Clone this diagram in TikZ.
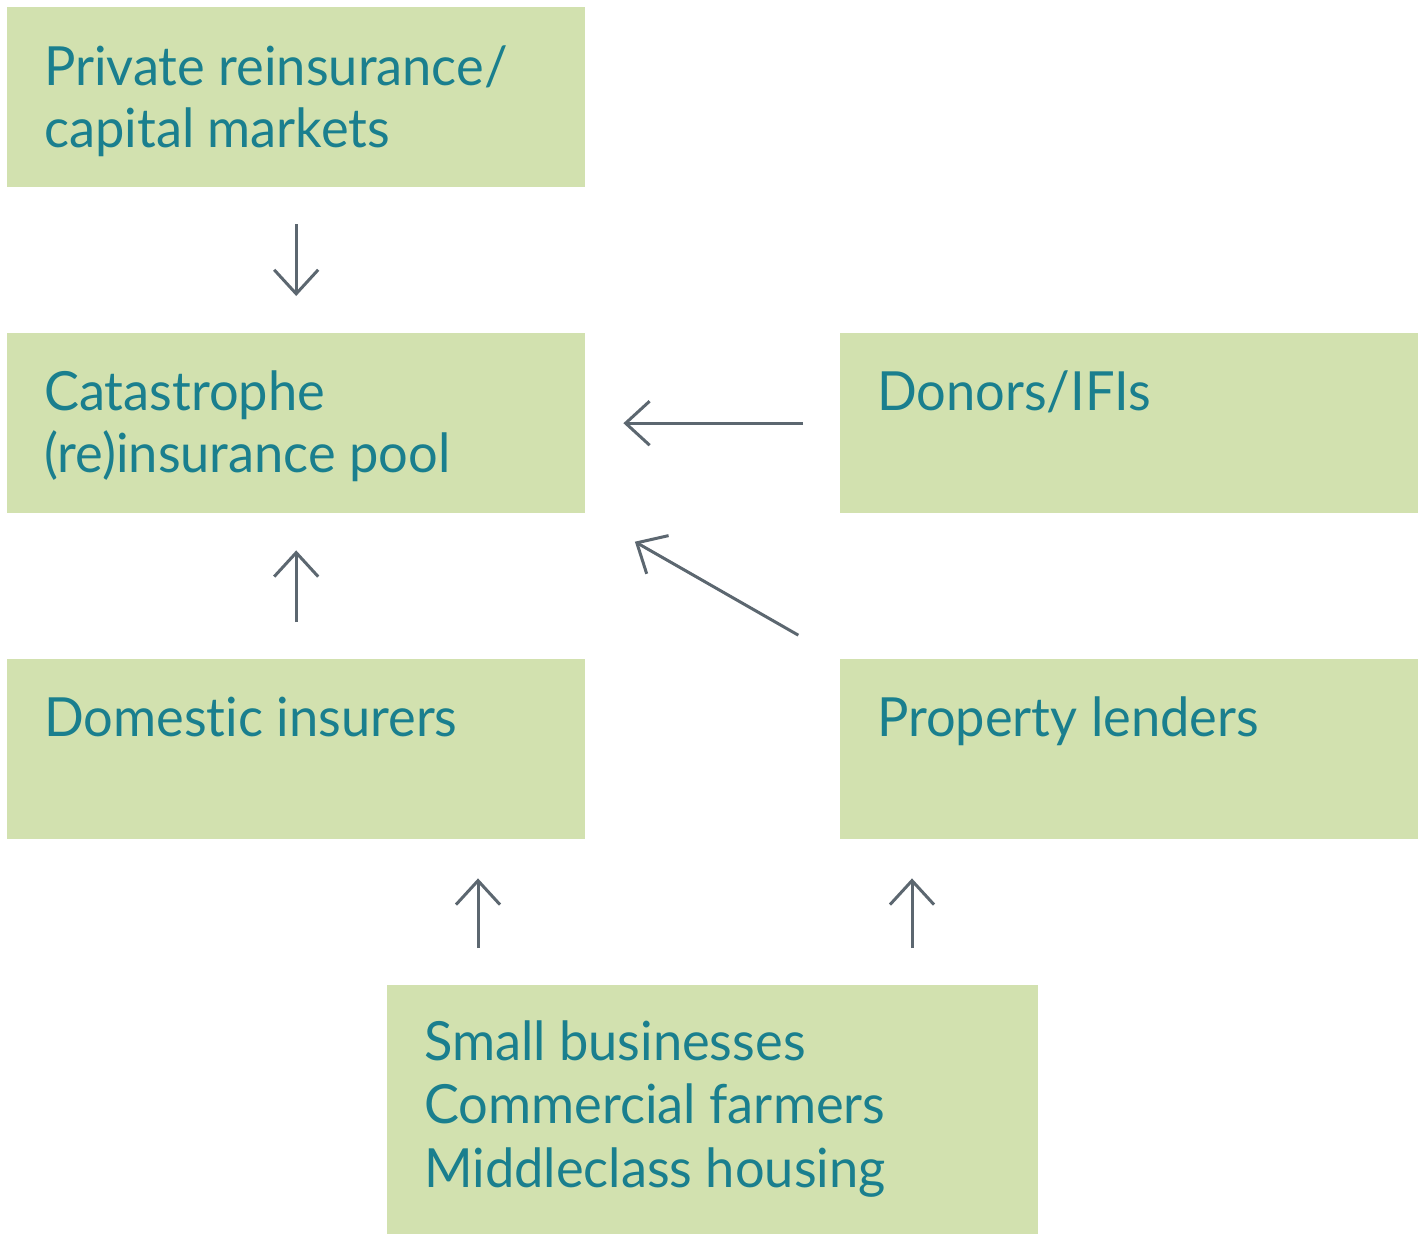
\documentclass[tikz,border=0pt]{standalone}
\usepackage{fontspec}
\setmainfont[Ligatures={NoCommon,NoDiscretionary,NoRare},FakeStretch=0.97]{Lato}
\usetikzlibrary{arrows.meta}
\definecolor{boxfill}{HTML}{D2E1AF}
\definecolor{txtcol}{HTML}{1A7F8E}
\definecolor{arrcol}{HTML}{5C6770}
\begin{document}
\begin{tikzpicture}[x=1pt,y=-1pt,
  box/.style={draw=none,fill=boxfill,minimum width=#1,minimum height=180pt,inner sep=0pt,anchor=north west},
  box/.default=578pt,
  txt/.style={text=txtcol,font=\fontsize{54}{63}\selectfont,anchor=base west,inner sep=0pt},
  flow/.style={draw=arrcol,line width=3pt,-{Straight Barb[length=24pt,width=44pt,line width=3pt]}}]
\useasboundingbox (0,0) rectangle (1428,1234);
\fill[white] (0,0) rectangle (1428,1234);
\node[box] (b1) at (7,7) {};
\node[box] (b2) at (7,333) {};
\node[box] (b3) at (840,333) {};
\node[box] (b4) at (7,659) {};
\node[box] (b5) at (840,659) {};
\node[box=651pt,minimum height=260pt] (b6) at (387,985) {};
\node[txt] (t1a) at (44,85) {Private reinsurance/};
\node[txt] (t1b) at (44,147) {capital markets};
\node[txt] (t2a) at (44,410) {Catastrophe};
\node[txt] (t2b) at (44,472) {(re)insurance pool};
\node[txt] (t3) at (877,410) {Donors/IFIs};
\node[txt] (t4) at (44,736) {Domestic insurers};
\node[txt] (t5) at (877,736) {Property lenders};
\node[txt] (t6a) at (424,1060) {Small businesses};
\node[txt] (t6b) at (424,1123) {Commercial farmers};
\node[txt] (t6c) at (424,1187) {Middleclass housing};
\coordinate (x1) at (478,0);
\coordinate (x2) at (912,0);
\draw[flow,shorten <=37pt,shorten >=37pt] (b1.south) -- (b2.north);
\draw[flow,shorten <=37pt,shorten >=38pt] (b3.west) -- (b2.east);
\draw[flow,shorten <=37pt,shorten >=37pt] (b4.north) -- (b2.south);
\draw[flow,shorten <=48pt,shorten >=57pt] (b5.north west) -- (b2.south east);
\draw[flow,shorten <=37pt,shorten >=39pt] (b6.north -| x1) -- (b4.south -| x1);
\draw[flow,shorten <=37pt,shorten >=39pt] (b6.north -| x2) -- (b5.south -| x2);
\end{tikzpicture}
\end{document}
